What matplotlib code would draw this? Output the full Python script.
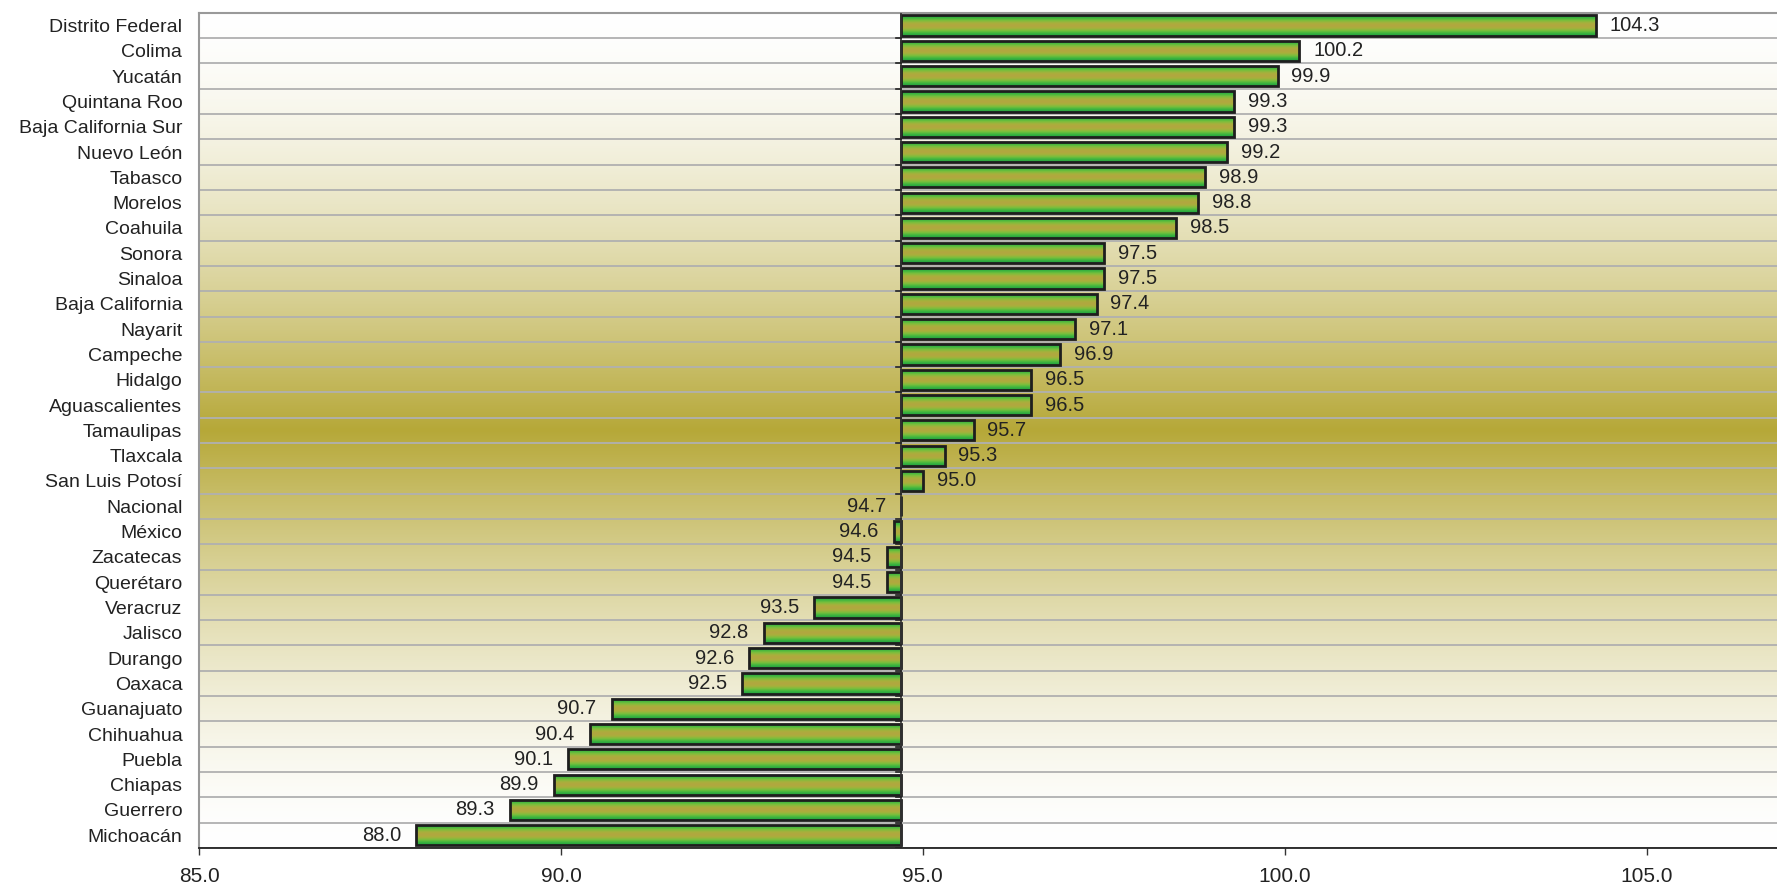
import numpy as np
import matplotlib
matplotlib.use("Agg")
import matplotlib.pyplot as plt
from matplotlib.colors import LinearSegmentedColormap, to_rgb

# Datos por entidad
estados = ["Distrito Federal", "Colima", "Yucatán", "Quintana Roo", "Baja California Sur",
           "Nuevo León", "Tabasco", "Morelos", "Coahuila", "Sonora", "Sinaloa",
           "Baja California", "Nayarit", "Campeche", "Hidalgo", "Aguascalientes",
           "Tamaulipas", "Tlaxcala", "San Luis Potosí", "Nacional", "México",
           "Zacatecas", "Querétaro", "Veracruz", "Jalisco", "Durango", "Oaxaca",
           "Guanajuato", "Chihuahua", "Puebla", "Chiapas", "Guerrero", "Michoacán"]
valores = [104.3, 100.2, 99.9, 99.3, 99.3, 99.2, 98.9, 98.8, 98.5, 97.5, 97.5,
           97.4, 97.1, 96.9, 96.5, 96.5, 95.7, 95.3, 95.0, 94.7, 94.6,
           94.5, 94.5, 93.5, 92.8, 92.6, 92.5, 90.7, 90.4, 90.1, 89.9, 89.3, 88.0]
base = 94.7
xticks = [85.0, 90.0, 95.0, 100.0, 105.0]

plt.rcParams['font.family'] = ['Liberation Sans', 'DejaVu Sans']
fs = 14

fig = plt.figure(figsize=(17.77, 8.86), dpi=100)
ax = fig.add_axes([0.112, 0.043, 0.888, 0.9425])

n = len(estados)
y = np.arange(n)

# Fondo con degradado vertical (blanco - olivo - blanco)
t = np.linspace(-1, 1, 400)
f = (1 - np.abs(t)) ** 1.6
blanco = np.array(to_rgb("#ffffff"))
olivo = np.array(to_rgb("#b6a838"))
fondo = blanco[None, :] * (1 - f[:, None]) + olivo[None, :] * f[:, None]
ax.imshow(fondo[:, None, :], aspect="auto", extent=[0, 1, 0, 1],
          transform=ax.transAxes, zorder=0)

# Líneas de la cuadrícula entre filas
for yy in np.arange(-0.5, n, 1.0)[1:]:
    ax.axhline(yy, color="#b0b0b0", lw=1.3, zorder=1)

# Barras con degradado
cmap_barra = LinearSegmentedColormap.from_list(
    "barra", ["#1f9e3c", "#3cb440", "#78bf3c", "#a8b03c", "#b2a640",
              "#a8b03c", "#78bf3c", "#3cb440", "#1f9e3c"])
grad = np.linspace(0, 1, 64)[:, None]
bars = ax.barh(y, np.array(valores) - base, left=base, height=0.8,
               facecolor="none", edgecolor="#1e1e1e", linewidth=2.0, zorder=3)
for b in bars:
    x0, y0 = b.get_x(), b.get_y()
    w, h = b.get_width(), b.get_height()
    if abs(w) < 1e-9:
        continue
    im = ax.imshow(grad, cmap=cmap_barra, aspect="auto",
                   extent=[min(x0, x0 + w), max(x0, x0 + w), y0 + h, y0], zorder=2)
    im.set_clip_path(b)

# Etiquetas de valor
for yi, v in zip(y, valores):
    if v > base:
        ax.annotate(f"{v:.1f}", (v, yi), xytext=(10, 0), textcoords="offset points",
                    ha="left", va="center", fontsize=14.5, color="#222222", zorder=4)
    else:
        ax.annotate(f"{v:.1f}", (v, yi), xytext=(-11, 0), textcoords="offset points",
                    ha="right", va="center", fontsize=14.5, color="#222222", zorder=4)

# Eje de categorías en el valor nacional
ax.axvline(base, color="#333333", lw=1.2, zorder=3)
for yy in np.arange(-0.5, n, 1.0)[1:]:
    ax.plot([base - 0.07, base], [yy, yy], color="#222222", lw=1.2, zorder=3)

ax.set_xlim(85, 106.8)
ax.set_ylim(n - 0.5, -0.5)
ax.set_xticks(xticks)
ax.set_xticklabels([f"{v:.1f}" for v in xticks], fontsize=15, color="#222222")
ax.set_yticks(y)
ax.set_yticklabels(estados, fontsize=fs, color="#222222")
ax.tick_params(axis="y", length=0, pad=12)
ax.tick_params(axis="x", length=5, width=1, color="#333333", pad=9)

ax.spines["left"].set_color("#999999")
ax.spines["left"].set_linewidth(1.5)
ax.spines["top"].set_color("#999999")
ax.spines["top"].set_linewidth(1.5)
ax.spines["right"].set_visible(False)
ax.spines["bottom"].set_color("#222222")
ax.spines["bottom"].set_linewidth(1.3)

fig.savefig("out.png", dpi=100)
